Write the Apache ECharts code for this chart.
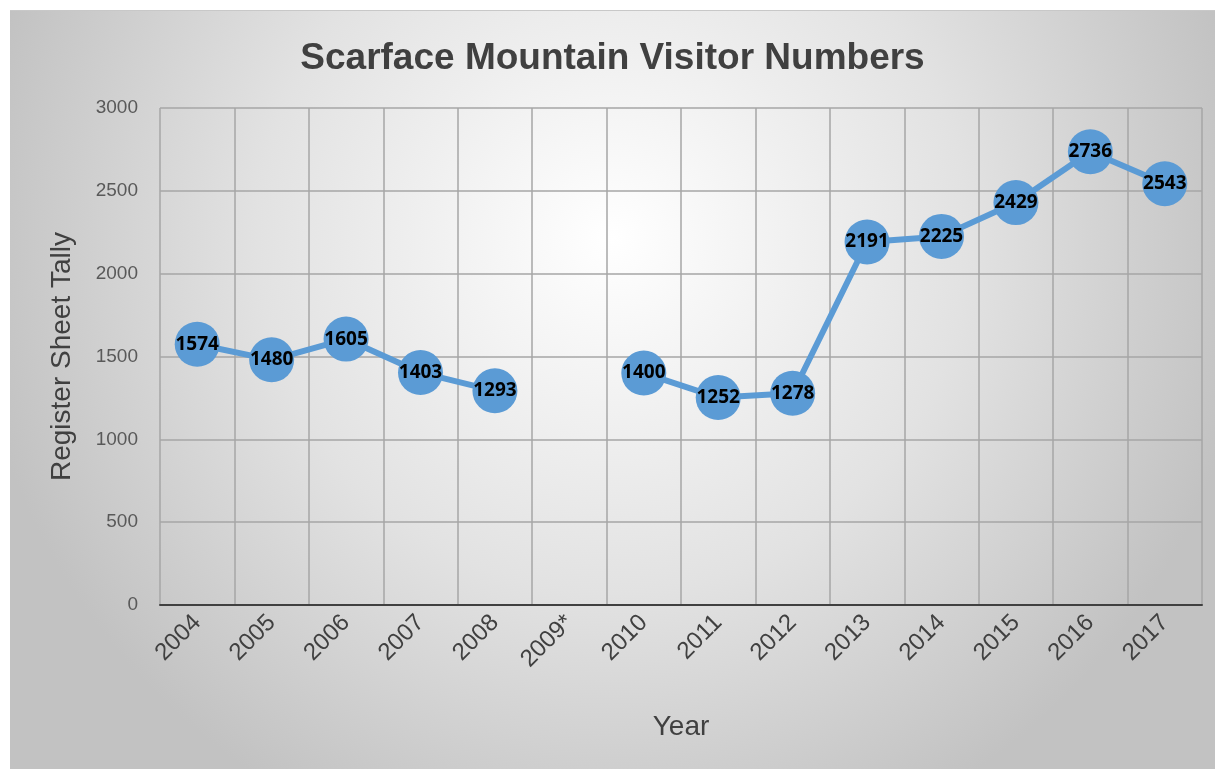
<!DOCTYPE html>
<html lang="en">
<head>
    <meta charset="UTF-8">
    <title>Scarface Mountain Visitor Numbers</title>
    <script src="https://cdn.jsdelivr.net/npm/echarts@6/dist/echarts.min.js"></script>
    <style>
        * { margin: 0; padding: 0; }
        html, body { width: 100%; height: 100%; background: #ffffff; }
        #main {
            position: absolute;
            left: 10px;
            top: 10px;
            width: 1205px;
            height: 758px;
            border-top: 1px solid #c8c8c8;
        }
    </style>
</head>
<body>
    <div id="main"></div>
<script>
    var years = ['2004', '2005', '2006', '2007', '2008', '2009*', '2010', '2011', '2012', '2013', '2014', '2015', '2016', '2017'];
    // 2009 has no tally, so the line breaks there
    var tally = [1574, 1480, 1605, 1403, 1293, null, 1400, 1252, 1278, 2191, 2225, 2429, 2736, 2543];
    var yTicks = [0, 3000, 500]; // min, max, interval

    var myChart = echarts.init(document.getElementById('main'));
    myChart.setOption({
        backgroundColor: {
            type: 'radial',
            x: 0.5, y: 0.3, r: 0.85,
            colorStops: [
                { offset: 0, color: '#ffffff' },
                { offset: 0.55, color: '#e2e2e2' },
                { offset: 1, color: '#c2c2c2' }
            ]
        },
        title: {
            text: 'Scarface Mountain Visitor Numbers',
            left: 'center',
            top: 24,
            textStyle: {
                fontFamily: 'Liberation Sans',
                fontSize: 37,
                fontWeight: 'bold',
                color: '#404040'
            }
        },
        grid: {
            left: 150,
            top: 97,
            right: 13,
            bottom: 164,
            containLabel: false
        },
        xAxis: {
            type: 'category',
            data: years,
            boundaryGap: true,
            name: 'Year',
            nameLocation: 'middle',
            nameGap: 108,
            nameTextStyle: { fontFamily: 'Liberation Sans', fontSize: 28, color: '#404040' },
            axisLine: { lineStyle: { color: '#404040', width: 2 } },
            axisTick: { show: false },
            axisLabel: {
                rotate: 45,
                margin: 14,
                fontFamily: 'Liberation Sans',
                fontSize: 24,
                color: '#404040'
            },
            splitLine: { show: true, lineStyle: { color: '#a6a6a6', width: 1.5 } }
        },
        yAxis: {
            type: 'value',
            min: yTicks[0],
            max: yTicks[1],
            interval: yTicks[2],
            name: 'Register Sheet Tally',
            nameLocation: 'middle',
            nameGap: 84,
            nameTextStyle: { fontFamily: 'Liberation Sans', fontSize: 28, color: '#404040' },
            axisLine: { show: false },
            axisTick: { show: false },
            axisLabel: {
                margin: 22,
                fontFamily: 'Liberation Sans',
                fontSize: 19,
                color: '#595959',
                formatter: function (v) { return String(v); }
            },
            splitLine: { show: true, lineStyle: { color: '#a6a6a6', width: 1.5 } }
        },
        series: [
            {
                type: 'line',
                data: tally,
                connectNulls: false,
                symbol: 'circle',
                symbolSize: 45,
                lineStyle: { color: '#5b9bd5', width: 6 },
                itemStyle: { color: '#5b9bd5' },
                label: {
                    show: true,
                    position: 'inside',
                    fontFamily: 'Noto Sans',
                    fontWeight: 'bold',
                    fontSize: 19,
                    color: '#000000'
                }
            }
        ]
    });
</script>
</body>
</html>
